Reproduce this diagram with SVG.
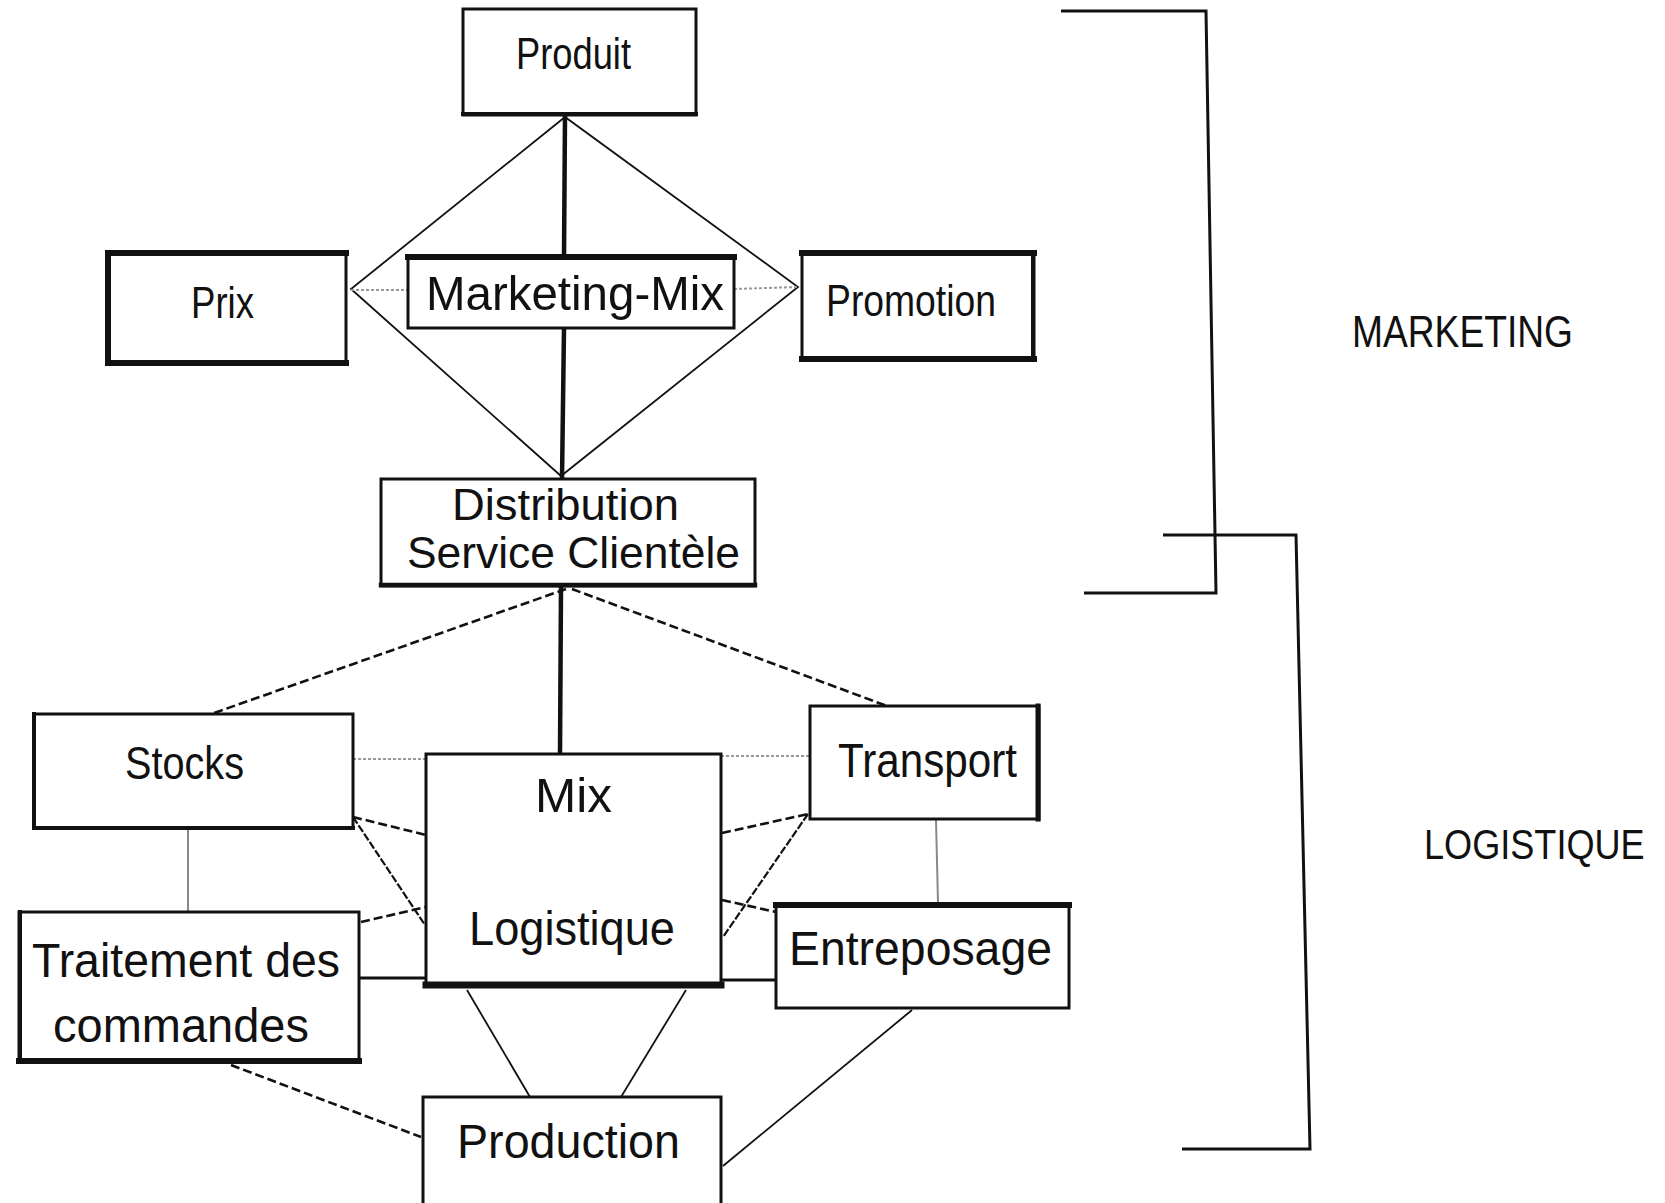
<svg xmlns="http://www.w3.org/2000/svg" width="1665" height="1203" viewBox="0 0 1665 1203">
  <style>
    .box { fill: #fff; stroke: #111; stroke-width: 3; }
    .edge { fill: none; stroke: #111; stroke-width: 6; stroke-linecap: square; }
    .lbl { font-family: "Liberation Sans", Arial, sans-serif; font-size: 47px; fill: #111; text-anchor: start; }
    .side { font-family: "Liberation Sans", Arial, sans-serif; font-size: 44px; fill: #111; }
    .axis { stroke: #111; stroke-width: 4.5; fill: none; }
    .thin { stroke: #111; stroke-width: 1.8; fill: none; }
    .dash { stroke: #111; stroke-width: 2.6; fill: none; stroke-dasharray: 9 4; }
    .fine { stroke: #111; stroke-width: 2.2; fill: none; stroke-dasharray: 8 2; }
    .grey { stroke: #999; stroke-width: 2; fill: none; stroke-dasharray: 3 2; }
    .greysolid { stroke: #888; stroke-width: 2; fill: none; }
    .mid { stroke: #111; stroke-width: 3; fill: none; }
    .bracket { stroke: #111; stroke-width: 3; fill: none; }
  </style>

  <rect width="1665" height="1203" fill="#fff"/>

  <!-- connectors -->
  <g id="connectors">
    <!-- marketing diamond: Produit, Prix, Distribution, Promotion -->
    <polygon class="thin" points="565,117 351,289 561,476 798,287"/>
    <line class="axis" x1="565" y1="115" x2="564" y2="256"/>
    <line class="axis" x1="564" y1="328" x2="562" y2="479"/>
    <line class="grey" x1="351" y1="290" x2="408" y2="290"/>
    <line class="grey" x1="734" y1="289" x2="798" y2="287"/>

    <!-- distribution to logistics -->
    <line class="axis" x1="561" y1="586" x2="560" y2="754"/>
    <line class="dash" x1="566" y1="589" x2="214" y2="713"/>
    <line class="dash" x1="572" y1="589" x2="887" y2="706"/>

    <!-- around the logistics mix -->
    <line class="grey" x1="353" y1="759" x2="426" y2="759"/>
    <line class="grey" x1="721" y1="756" x2="810" y2="756"/>
    <line class="greysolid" x1="188" y1="830" x2="188" y2="912"/>
    <line class="greysolid" x1="936" y1="820" x2="938" y2="903"/>

    <line class="dash" x1="353" y1="817" x2="426" y2="835"/>
    <line class="fine" x1="353" y1="817" x2="425" y2="925"/>
    <line class="dash" x1="361" y1="922" x2="426" y2="907"/>
    <line class="mid" x1="359" y1="978" x2="426" y2="978"/>

    <line class="dash" x1="722" y1="833" x2="808" y2="814"/>
    <line class="fine" x1="808" y1="814" x2="723" y2="937"/>
    <line class="dash" x1="722" y1="900" x2="776" y2="912"/>
    <line class="mid" x1="721" y1="980" x2="776" y2="980"/>

    <line class="thin" x1="467" y1="990" x2="530" y2="1097"/>
    <line class="thin" x1="686" y1="990" x2="621" y2="1097"/>
    <line class="dash" x1="231" y1="1065" x2="421" y2="1137"/>
    <line class="thin" x1="912" y1="1010" x2="723" y2="1166"/>

    <!-- brackets -->
    <path class="bracket" d="M1061,11 H1206 L1216,593 H1084"/>
    <path class="bracket" d="M1163,535 H1296 L1310,1149 H1182"/>
  </g>

  <!-- marketing nodes -->
  <g id="produit">
    <rect class="box" x="463" y="9" width="233" height="106"/>
    <line class="edge" x1="463" y1="114" x2="696" y2="114" style="stroke-width:4"/>
    <text class="lbl" x="516" y="69" textLength="115" lengthAdjust="spacingAndGlyphs" style="font-size:44px">Produit</text>
  </g>

  <g id="prix">
    <rect class="box" x="108" y="253" width="238" height="110"/>
    <path class="edge" d="M346,253 H108 V363 H346"/>
    <text class="lbl" x="191" y="318" textLength="63" lengthAdjust="spacingAndGlyphs" style="font-size:44px">Prix</text>
  </g>

  <g id="marketing-mix">
    <rect class="box" x="408" y="256" width="326" height="72"/>
    <line class="edge" x1="408" y1="257" x2="734" y2="257"/>
    <text class="lbl" x="426" y="310" textLength="298" lengthAdjust="spacingAndGlyphs" style="font-size:49px">Marketing-Mix</text>
  </g>

  <g id="promotion">
    <rect class="box" x="802" y="252" width="232" height="108"/>
    <line class="edge" x1="802" y1="253" x2="1034" y2="253"/>
    <line class="edge" x1="802" y1="359" x2="1034" y2="359"/>
    <line class="edge" x1="1033" y1="253" x2="1033" y2="359" style="stroke-width:4"/>
    <text class="lbl" x="826" y="316" textLength="170" lengthAdjust="spacingAndGlyphs" style="font-size:44px">Promotion</text>
  </g>

  <g id="distribution">
    <rect class="box" x="381" y="479" width="374" height="107"/>
    <line class="edge" x1="381" y1="585" x2="755" y2="585" style="stroke-width:4.5"/>
    <text class="lbl" x="452" y="520" textLength="227" lengthAdjust="spacingAndGlyphs" style="font-size:44px">Distribution</text>
    <text class="lbl" x="407" y="568" textLength="333" lengthAdjust="spacingAndGlyphs" style="font-size:44px">Service Clientèle</text>
  </g>

  <!-- logistics nodes -->
  <g id="stocks">
    <rect class="box" x="34" y="714" width="319" height="114"/>
    <path class="edge" d="M34,714 V828 H353" style="stroke-width:4"/>
    <text class="lbl" x="125" y="779" textLength="119" lengthAdjust="spacingAndGlyphs">Stocks</text>
  </g>

  <g id="mix-logistique">
    <rect class="box" x="426" y="754" width="295" height="232"/>
    <line class="edge" x1="426" y1="985" x2="721" y2="985" style="stroke-width:7"/>
    <text class="lbl" x="535" y="812" textLength="77" lengthAdjust="spacingAndGlyphs" style="font-size:48px">Mix</text>
    <text class="lbl" x="469" y="945" textLength="206" lengthAdjust="spacingAndGlyphs" style="font-size:48px">Logistique</text>
  </g>

  <g id="transport">
    <rect class="box" x="810" y="706" width="229" height="113"/>
    <line class="edge" x1="1038" y1="706" x2="1038" y2="819" style="stroke-width:5"/>
    <text class="lbl" x="838" y="777" textLength="179" lengthAdjust="spacingAndGlyphs" style="font-size:48px">Transport</text>
  </g>

  <g id="entreposage">
    <rect class="box" x="776" y="904" width="293" height="104"/>
    <line class="edge" x1="776" y1="905" x2="1069" y2="905"/>
    <text class="lbl" x="789" y="965" textLength="263" lengthAdjust="spacingAndGlyphs" style="font-size:49px">Entreposage</text>
  </g>

  <g id="traitement">
    <rect class="box" x="19" y="912" width="340" height="150"/>
    <line class="edge" x1="19" y1="1061" x2="359" y2="1061"/>
    <line class="edge" x1="20" y1="912" x2="20" y2="1061" style="stroke-width:4"/>
    <text class="lbl" x="32" y="977" textLength="308" lengthAdjust="spacingAndGlyphs" style="font-size:49px">Traitement des</text>
    <text class="lbl" x="53" y="1042" textLength="256" lengthAdjust="spacingAndGlyphs" style="font-size:49px">commandes</text>
  </g>

  <g id="production">
    <rect class="box" x="423" y="1097" width="298" height="112"/>
    <text class="lbl" x="457" y="1158" textLength="223" lengthAdjust="spacingAndGlyphs" style="font-size:49px">Production</text>
  </g>

  <!-- side labels -->
  <g id="labels">
    <text class="side" x="1352" y="347" textLength="221" lengthAdjust="spacingAndGlyphs">MARKETING</text>
    <text class="side" transform="translate(1424,859) scale(0.84,1)" style="font-size:43px">LOGISTIQUE</text>
  </g>
</svg>
